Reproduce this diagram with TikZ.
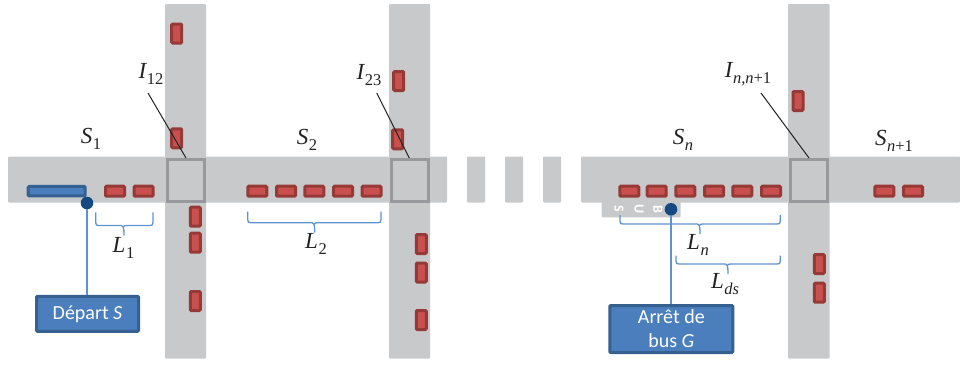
\documentclass[tikz,border=0pt]{standalone}
\usepackage{fontspec}
\setmainfont{Carlito}
\newfontfamily\lab{Liberation Serif}
\definecolor{roadc}{HTML}{C8C9CB}
\definecolor{sqc}{HTML}{98999C}
\definecolor{carf}{HTML}{C9504E}
\definecolor{card}{HTML}{963A38}
\definecolor{bluef}{HTML}{4A7EBD}
\definecolor{blued}{HTML}{36608F}
\definecolor{dotc}{HTML}{154A80}
\definecolor{bracec}{HTML}{5F93D0}
\definecolor{inkc}{HTML}{222222}
\tikzset{
 x=1pt,y=-1pt,
 road/.style={fill=roadc,draw=none,rounded corners=1pt},
 hcar/.style={draw=card,fill=carf,line width=3pt,rounded corners=1pt,minimum width=19pt,minimum height=10pt,inner sep=0pt,outer sep=0pt},
 vcar/.style={draw=card,fill=carf,line width=3pt,rounded corners=1pt,minimum width=10pt,minimum height=19pt,inner sep=0pt,outer sep=0pt},
 junction/.style={draw=sqc,line width=3pt,fill=none,minimum width=37pt,minimum height=42pt,inner sep=0pt,outer sep=0pt},
 mlabel/.style={text=inkc,inner sep=0pt,font=\lab\fontsize{23}{26}\selectfont},
 leader/.style={draw=inkc,line width=1pt},
 bracket/.style={draw=bracec,line width=1.3pt},
 link/.style={draw=bracec,line width=1.6pt},
 stopdot/.style={circle,fill=dotc,draw=none,minimum size=12.6pt,inner sep=0pt,outer sep=0pt},
 infobox/.style={draw=blued,fill=bluef,line width=3pt,rounded corners=1pt,text=white,align=center,inner sep=0pt,font=\fontsize{20}{24}\selectfont},
 busletter/.style={text=white,inner sep=0pt,rotate=-90,font=\bfseries\fontsize{14}{14}\selectfont},
}
% italic letter with a smaller lowered subscript
\newcommand{\lbl}[2]{{\itshape #1}\kern0.5pt\raisebox{-0.28em}{\fontsize{16.5}{18}\selectfont #2}}
\newcommand{\bracketpath}[5]{%
 \draw[bracket] (#1,#4) -- (#1,#5-3) .. controls (#1,#5-0.5) and (#1+1,#5) .. (#1+3,#5) -- (#3-2.5,#5) .. controls (#3-1,#5) and (#3,#5+1) .. (#3,#5+10)
   (#3,#5+1) .. controls (#3,#5+0.6) and (#3+1,#5) .. (#3+2.5,#5) -- (#2-3,#5) .. controls (#2-1,#5) and (#2,#5-0.5) .. (#2,#5-3) -- (#2,#4);
}
\begin{document}
\begin{tikzpicture}
\useasboundingbox (0,0) rectangle (960,365);
% roads
\fill[road] (165,4) rectangle (206,358.5);
\fill[road] (389,4) rectangle (430,358.5);
\fill[road] (788,4) rectangle (829.5,358.5);
\fill[road] (8,156.5) rectangle (447,202.5);
\fill[road] (467,156.5) rectangle (485,202.5);
\fill[road] (505,156.5) rectangle (523,202.5);
\fill[road] (543,156.5) rectangle (561,202.5);
\fill[road] (581,156.5) rectangle (960,202.5);
\fill[road] (601.7,200) rectangle (680.7,217.3);
% BUS letters
\node[busletter] (busS) at (619,209) {S};
\node[busletter] (busU) at (639,209) {U};
\node[busletter] (busB) at (658,209) {B};
% horizontal cars
\foreach \n/\x in {a1/115,a2/143.5,b1/257.3,b2/286,b3/314.3,b4/343,b5/371.5,c1/629.3,c2/656.7,c3/685.3,c4/714,c5/742.3,c6/771,d1/884.3,d2/913}
  \node[hcar] (\n) at (\x,191.2) {};
% vertical cars
\foreach \n/\x/\y in {e1/176.7/33.5,e2/176.7/138.3,e3/195.3/216.7,e4/195.3/242.7,e5/195.3/301,
  f1/398.7/81,f2/397.7/139.3,f3/421.3/244,f4/421.3/272.5,f5/421.3/320,g1/798/101,g2/819.3/264,g3/819.3/292.7}
  \node[vcar] (\n) at (\x,\y) {};
% junctions
\node[junction] (j1) at (186,180) {};
\node[junction] (j2) at (409.5,180) {};
\node[junction] (j3) at (809,180) {};
% departure bus
\node[draw=blued,fill=bluef,line width=3pt,rounded corners=1pt,minimum width=57pt,minimum height=9.5pt,inner sep=0pt] (depbus) at (56.7,191.2) {};
% labels
\node[mlabel] (S1) at (91,139) {\lbl{S}{1}};
\node[mlabel] (S2) at (307,140) {\lbl{S}{2}};
\node[mlabel] (Sn) at (683,140) {\lbl{S}{\itshape n}};
\node[mlabel] (Snn) at (894,141) {\lbl{S}{{\itshape n}+1}};
\node[mlabel] (I12) at (151,74) {\lbl{I}{12}};
\node[mlabel] (I23) at (369,75) {\lbl{I}{23}};
\node[mlabel] (Inn) at (748,74) {\lbl{I}{{\itshape n,n}+1}};
\node[mlabel] (L1) at (123.5,248) {\lbl{L}{1}};
\node[mlabel] (L2) at (316,244) {\lbl{L}{2}};
\node[mlabel] (Ln) at (698,245) {\lbl{L}{\itshape n}};
\node[mlabel] (Lds) at (725,284) {\lbl{L}{\itshape ds}};
% leaders
\coordinate (i1) at (148,93);
\coordinate (i2) at (376.7,93);
\coordinate (i3) at (761,93);
\coordinate (t1) at (186,158);
\coordinate (t2) at (409.3,158);
\coordinate (t3) at (809,158);
\draw[leader] (i1) -- (t1);
\draw[leader] (i2) -- (t2);
\draw[leader] (i3) -- (t3);
% boxes and stops
\node[infobox,minimum width=102pt,minimum height=35pt] (dep) at (87.5,313.8) {\raisebox{-1pt}{Départ \textit{S}}};
\node[infobox,minimum width=123pt,minimum height=47pt] (arr) at (671.3,329) {\raisebox{-0.5pt}{Arrêt de}\\\raisebox{-0.5pt}{bus \textit{G}}};
\node[stopdot] (dot1) at (87,203) {};
\node[stopdot] (dot2) at (671,209.3) {};
\draw[link] (dot1) -- (dep.north -| dot1);
\draw[link] (dot2) -- (arr.north -| dot2);
% brackets
\bracketpath{95.7}{153}{124}{212.3}{225.5}
\bracketpath{247.7}{381}{314.7}{211.7}{222.7}
\bracketpath{620}{780.3}{700}{215}{224}
\bracketpath{676}{780.3}{728}{255.7}{264}
\end{tikzpicture}
\end{document}
